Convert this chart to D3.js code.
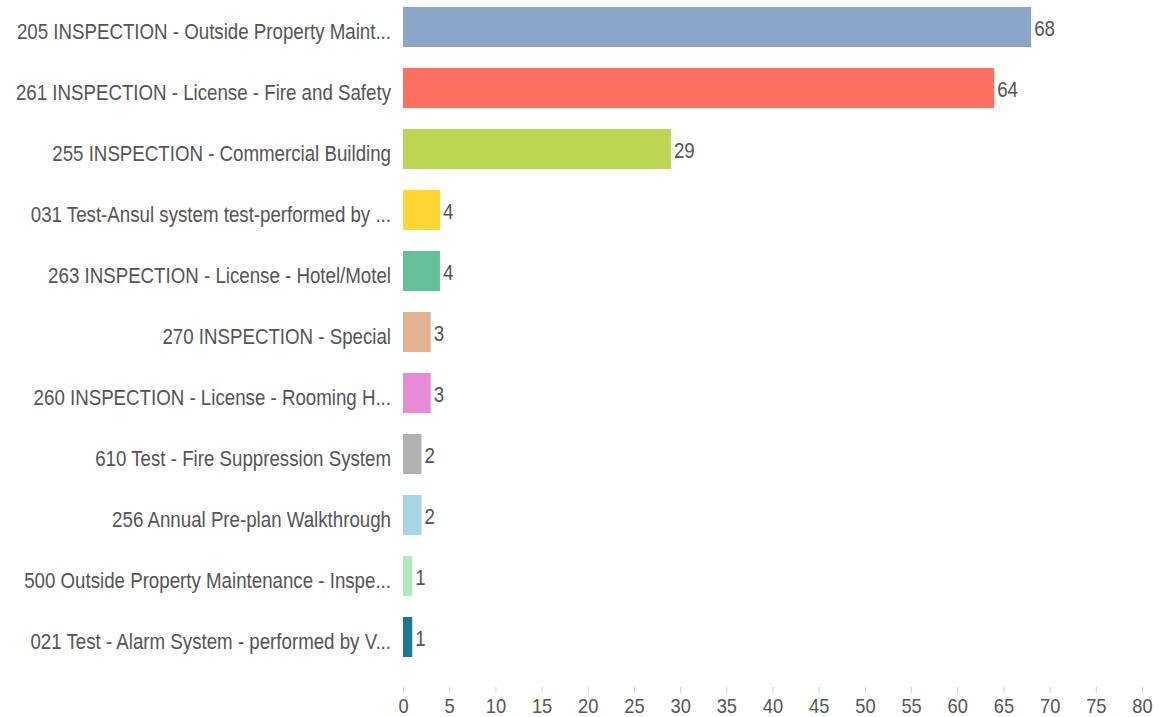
<!DOCTYPE html>
<html>
<head>
<meta charset="utf-8">
<script src="https://cdn.jsdelivr.net/npm/d3@7.9.0/dist/d3.min.js"></script>
<style>
  body { margin: 0; background: #fff; }
  svg text { font-family: "Liberation Sans", Arial, sans-serif; fill: #555; }
</style>
</head>
<body>
<svg id="chart" width="1159" height="717"></svg>
<script>
const categories = [
  '205 INSPECTION - Outside Property Maint...',
  '261 INSPECTION - License - Fire and Safety',
  '255 INSPECTION - Commercial Building',
  '031 Test-Ansul system test-performed by ...',
  '263 INSPECTION - License - Hotel/Motel',
  '270 INSPECTION - Special',
  '260 INSPECTION - License - Rooming H...',
  '610 Test - Fire Suppression System',
  '256 Annual Pre-plan Walkthrough',
  '500 Outside Property Maintenance - Inspe...',
  '021 Test - Alarm System - performed by V...'
];
const counts = [68, 64, 29, 4, 4, 3, 3, 2, 2, 1, 1];
const barColors = ['#8aa7c9', '#fd6f5f', '#bcd651', '#fdd633', '#64c197', '#e4b293',
                   '#e68bd4', '#b1b1b1', '#a6d5e5', '#b3e9c1', '#1a7893'];
const xTicks = d3.range(0, 81, 5);

const squeeze = 0.87; // the original font is tall and narrow

const svg = d3.select('#chart');
const x = d3.scaleLinear().domain([0, 80]).range([403, 1142]);
const y = d3.scaleBand().domain(categories).range([-3.5, 667.5])
  .paddingInner(0.344).paddingOuter(0.172);
const mid = d => y(d) + y.bandwidth() / 2;

const rows = svg.append('g').selectAll('g').data(categories).join('g');

rows.append('rect')
  .attr('x', x(0))
  .attr('y', d => y(d))
  .attr('width', (d, i) => x(counts[i]) - x(0))
  .attr('height', y.bandwidth())
  .attr('fill', (d, i) => barColors[i]);

rows.append('text')
  .attr('transform', d => `translate(391,${mid(d) + 11.5}) scale(${squeeze},1)`)
  .attr('text-anchor', 'end')
  .attr('font-size', 21.5)
  .text(d => d);

rows.append('text')
  .attr('transform', (d, i) => `translate(${x(counts[i]) + 3},${mid(d) + 8.5}) scale(${squeeze},1)`)
  .attr('font-size', 21.5)
  .text((d, i) => counts[i]);

const axis = svg.append('g')
  .attr('transform', 'translate(0,687)')
  .call(d3.axisBottom(x).tickValues(xTicks).tickSize(6).tickPadding(0));
axis.select('.domain').remove();
axis.selectAll('line').attr('stroke', '#cfcfcf');
axis.selectAll('text')
  .attr('y', 0).attr('dy', 0)
  .attr('transform', `translate(0,26) scale(${squeeze},1)`)
  .attr('x', d => 0)
  .attr('font-size', 21)
  .attr('fill', '#555')
  .style('font-family', '"Liberation Sans", Arial, sans-serif');
</script>
</body>
</html>
